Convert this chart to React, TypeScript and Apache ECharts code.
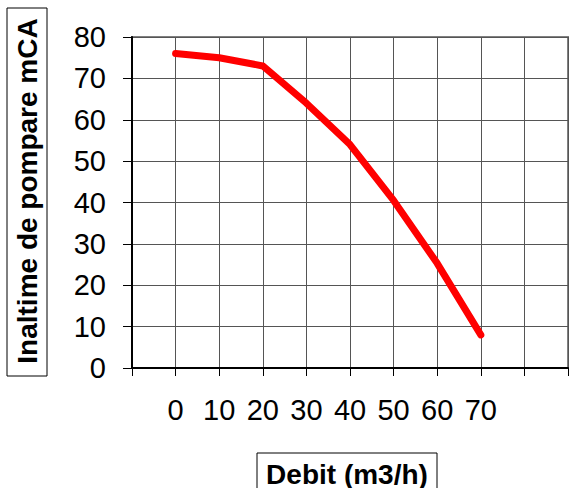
import React, { useEffect, useRef } from "react";
import * as echarts from "echarts";

const flowValues = [0, 10, 20, 30, 40, 50, 60, 70];
const headValues = [76, 75, 73, 64, 54, 40.5, 25.3, 8];
const xTickLabels = ["0", "10", "20", "30", "40", "50", "60", "70"];
const yTitle = "Inaltime de pompare mCA";
const xTitle = "Debit (m3/h)";

const FONT = "'Liberation Sans', Arial, sans-serif";

export default function App() {
  const ref = useRef<HTMLDivElement>(null);
  useEffect(() => {
    if (!ref.current) return;
    const chart = echarts.init(ref.current, undefined, { renderer: "svg" });
    const data = flowValues.map((x, i) => [x, headValues[i]]);
    chart.setOption({
      animation: false,
      backgroundColor: "#ffffff",
      grid: {
        left: 132,
        right: 1,
        top: 37,
        bottom: 120,
        show: true,
        borderColor: "#808080",
        borderWidth: 2,
        containLabel: false,
      },
      xAxis: {
        type: "value",
        min: -10,
        max: 90,
        interval: 10,
        axisLine: { show: true, onZero: false, lineStyle: { color: "#000", width: 2 } },
        axisTick: { show: true, length: 8, lineStyle: { color: "#000", width: 1 } },
        splitLine: { show: true, lineStyle: { color: "#555", width: 1 } },
        axisLabel: {
          show: true,
          margin: 27,
          fontFamily: FONT,
          fontSize: 29,
          color: "#000",
          showMinLabel: true,
          showMaxLabel: true,
          formatter: (v: number) => {
            const s = String(v);
            return xTickLabels.indexOf(s) >= 0 ? s : "";
          },
        },
      },
      yAxis: {
        type: "value",
        min: 0,
        max: 80,
        interval: 10,
        axisLine: { show: true, onZero: false, lineStyle: { color: "#000", width: 2 } },
        axisTick: { show: true, length: 9, lineStyle: { color: "#000", width: 1 } },
        splitLine: { show: true, lineStyle: { color: "#555", width: 1 } },
        axisLabel: {
          margin: 26,
          fontFamily: FONT,
          fontSize: 29,
          color: "#000",
        },
      },
      series: [
        {
          type: "line",
          data,
          symbol: "none",
          smooth: false,
          lineStyle: { color: "#ff0000", width: 7, cap: "round", join: "round" },
          z: 5,
        },
      ],
      graphic: [
        {
          type: "rect",
          shape: { x: 7, y: 8, width: 40, height: 368 },
          style: { fill: "#fff", stroke: "#000", lineWidth: 1 },
        },
        {
          type: "text",
          x: 27,
          y: 191,
          rotation: Math.PI / 2,
          style: {
            text: yTitle,
            font: `bold 28px ${FONT}`,
            fill: "#000",
            align: "center",
            verticalAlign: "middle",
          },
        },
        {
          type: "rect",
          shape: { x: 257, y: 453, width: 180, height: 42 },
          style: { fill: "#fff", stroke: "#000", lineWidth: 1 },
        },
        {
          type: "text",
          x: 347,
          y: 474,
          style: {
            text: xTitle,
            font: `bold 28px ${FONT}`,
            fill: "#000",
            align: "center",
            verticalAlign: "middle",
          },
        },
      ],
    });
    return () => chart.dispose();
  }, []);
  return (
    <div
      ref={ref}
      style={{ position: "fixed", left: 0, top: 0, width: 571, height: 488 }}
    />
  );
}
